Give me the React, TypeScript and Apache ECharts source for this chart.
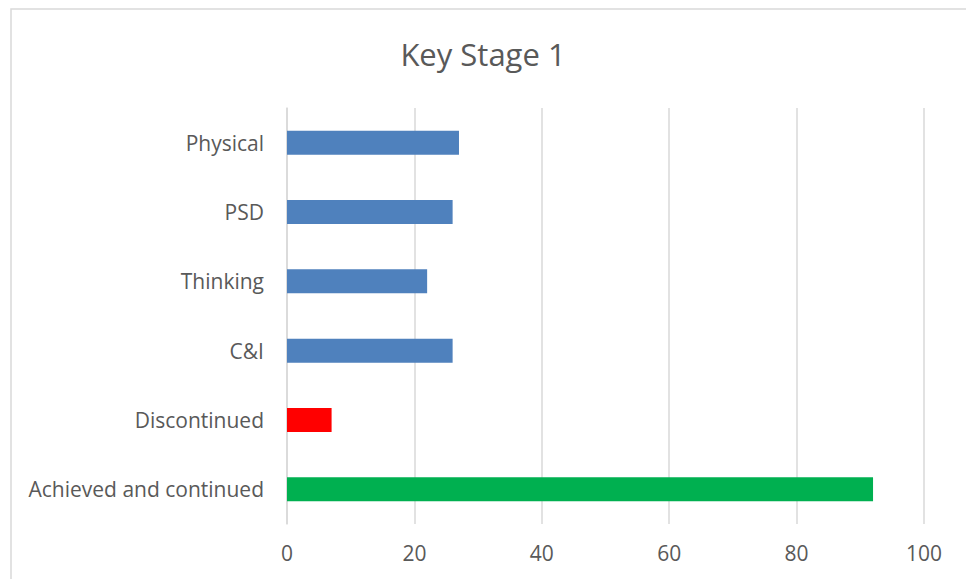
import React, { useEffect, useRef } from "react";
import * as echarts from "echarts";

const categories = ["Physical", "PSD", "Thinking", "C&I", "Discontinued", "Achieved and continued"];
const values = [27, 26, 22, 26, 7, 92];
const barColors = ["#4f81bd", "#4f81bd", "#4f81bd", "#4f81bd", "#ff0000", "#00b050"];
const titleText = "Key Stage 1";

export default function App() {
  const ref = useRef<HTMLDivElement>(null);
  useEffect(() => {
    if (!ref.current) return;
    const chart = echarts.init(ref.current, null, { renderer: "svg" });
    const font = "'Open Sans', 'Noto Sans', sans-serif";
    chart.setOption({
      animation: false,
      backgroundColor: "#ffffff",
      title: {
        text: titleText,
        left: "center",
        top: 33,
        textStyle: { fontFamily: font, fontSize: 31, fontWeight: "normal", color: "#595959" },
      },
      graphic: [
        {
          type: "rect",
          shape: { x: 11, y: 9, width: 2000, height: 2000 },
          style: { fill: "none", stroke: "#d9d9d9", lineWidth: 1.5 },
          silent: true,
        },
      ],
      grid: { left: 287, right: 42, top: 108, bottom: 55, containLabel: false },
      xAxis: {
        type: "value",
        min: 0,
        max: 100,
        interval: 20,
        axisLine: { show: false },
        axisTick: { show: false },
        splitLine: { lineStyle: { color: "#d9d9d9", width: 1.5 } },
        axisLabel: { fontFamily: font, fontSize: 21, color: "#595959", margin: 18 },
      },
      yAxis: {
        type: "category",
        data: categories,
        inverse: true,
        axisLine: { show: true, lineStyle: { color: "#d9d9d9", width: 1.5 } },
        axisTick: { show: false },
        axisLabel: { fontFamily: font, fontSize: 21, color: "#595959", margin: 23 },
      },
      series: [
        {
          type: "bar",
          barWidth: 24,
          data: values.map((v, i) => ({ value: v, itemStyle: { color: barColors[i] } })),
        },
      ],
    });
    return () => chart.dispose();
  }, []);
  return (
    <div
      ref={ref}
      style={{ position: "absolute", left: 0, top: 0, width: 966, height: 579 }}
    />
  );
}
